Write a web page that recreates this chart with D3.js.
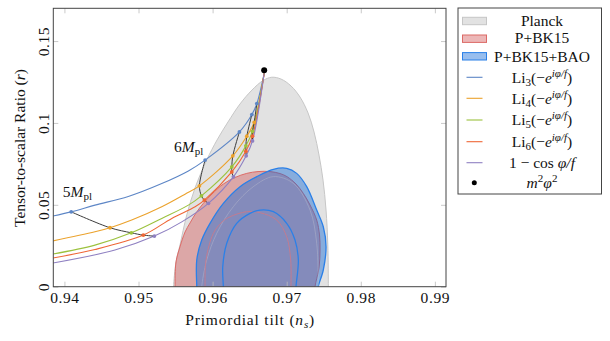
<!DOCTYPE html>
<html>
<head>
<meta charset="utf-8">
<script src="https://cdn.jsdelivr.net/npm/d3@7"></script>
<style>
  body { margin: 0; background: #fff; }
  svg { font-family: "Liberation Serif", "DejaVu Serif", serif; }
  .tick text { font-family: "Liberation Serif", "DejaVu Serif", serif; font-size: 15.5px; letter-spacing: 0.6px; fill: #111; }
</style>
</head>
<body>
<div id="chart"></div>
<script>
// chart values (ns, r)
var xTicks = [0.94, 0.95, 0.96, 0.97, 0.98, 0.99];
var yTicks = [0, 0.05, 0.1, 0.15];

var planckOuter = [[0.95473,-0.003],[0.95473,0],[0.95506,0.0151],[0.95560,0.0255],[0.95651,0.0438],[0.95763,0.0603],[0.95921,0.0774],[0.96060,0.0896],[0.96208,0.1006],[0.96370,0.1116],[0.96532,0.1201],[0.96681,0.1259],[0.96798,0.1279],[0.96923,0.1268],[0.97058,0.1226],[0.97180,0.1158],[0.97288,0.1061],[0.97369,0.0945],[0.97436,0.0804],[0.97490,0.0652],[0.97531,0.0468],[0.97555,0.0255],[0.97562,0],[0.97562,-0.003]];
var planckInner = [[0.95853,-0.003],[0.95853,0],[0.95921,0.0163],[0.96056,0.0326],[0.96280,0.0489],[0.96550,0.0611],[0.96820,0.0672],[0.97090,0.0631],[0.97315,0.0468],[0.97405,0.0265],[0.97427,0],[0.97427,-0.003]];
var bk15Outer = [[0.95493,-0.003],[0.95493,0],[0.95506,0.0151],[0.95560,0.0244],[0.95628,0.0334],[0.95695,0.0389],[0.95776,0.0450],[0.95875,0.0509],[0.95992,0.0566],[0.96145,0.0627],[0.96303,0.0667],[0.96461,0.0692],[0.96613,0.0703],[0.96775,0.0703],[0.96910,0.0691],[0.97004,0.0672],[0.97126,0.0627],[0.97224,0.0570],[0.97315,0.0499],[0.97405,0.0407],[0.97443,0.0316],[0.97450,0.0224],[0.97436,0.0114],[0.97382,0],[0.97382,-0.003]];
var bk15Inner = [[0.95898,-0.003],[0.95898,0],[0.95911,0.0163],[0.96010,0.0326],[0.96127,0.0395],[0.96235,0.0427],[0.96461,0.0458],[0.96640,0.0452],[0.96865,0.0407],[0.97000,0.0305],[0.97054,0.0163],[0.97058,0],[0.97058,-0.003]];
var baoOuter = [[0.95786,-0.003],[0.95786,0],[0.95786,0.0163],[0.95853,0.0285],[0.95965,0.0387],[0.96145,0.0509],[0.96370,0.0611],[0.96596,0.0672],[0.96820,0.0717],[0.97000,0.0723],[0.97135,0.0692],[0.97270,0.0611],[0.97405,0.0468],[0.97494,0.0366],[0.97531,0.0244],[0.97494,0.0102],[0.97427,0],[0.97427,-0.003]];
var baoInner = [[0.96145,-0.003],[0.96145,0],[0.96137,0.0122],[0.96191,0.0265],[0.96325,0.0387],[0.96505,0.0448],[0.96640,0.0468],[0.96820,0.0458],[0.97000,0.0387],[0.97112,0.0285],[0.97157,0.0163],[0.97126,0],[0.97126,-0.003]];

var li3Line = [[0.93804,0.0428],[0.94092,0.0457],[0.94412,0.0498],[0.94862,0.0551],[0.95314,0.0630],[0.95673,0.0707],[0.95899,0.0773],[0.96362,0.0945],[0.96530,0.1051],[0.96597,0.1118],[0.96696,0.1303]];
var li4Line = [[0.93804,0.0276],[0.94412,0.0335],[0.94615,0.0360],[0.94908,0.0407],[0.95314,0.0488],[0.95628,0.0565],[0.95822,0.0616],[0.96273,0.0799],[0.96462,0.0919],[0.96561,0.1004],[0.96696,0.1303]];
var li5Line = [[0.93804,0.0196],[0.94412,0.0254],[0.94903,0.0329],[0.95314,0.0417],[0.95673,0.0498],[0.95849,0.0555],[0.96259,0.0732],[0.96449,0.0860],[0.96538,0.0949],[0.96696,0.1303]];
var li6Line = [[0.93804,0.0172],[0.94412,0.0227],[0.95065,0.0315],[0.95449,0.0417],[0.95764,0.0488],[0.95889,0.0529],[0.96259,0.0701],[0.96449,0.0827],[0.96538,0.0919],[0.96696,0.1303]];
var cosLine = [[0.93804,0.0141],[0.94682,0.0224],[0.95214,0.0309],[0.95584,0.0396],[0.95943,0.0509],[0.96281,0.0671],[0.96453,0.0799],[0.96538,0.0890],[0.96696,0.1303]];

// marked points, same f for each column (5, 6, ... Mpl)
var li3Marks = [[0.94092,0.0457],[0.95899,0.0773],[0.96362,0.0945],[0.96530,0.1051],[0.96597,0.1118]];
var li4Marks = [[0.94615,0.0360],[0.95822,0.0616],[0.96273,0.0799],[0.96462,0.0919],[0.96561,0.1004]];
var li5Marks = [[0.94903,0.0329],[0.95849,0.0555],[0.96259,0.0732],[0.96449,0.0860],[0.96538,0.0949]];
var li6Marks = [[0.95065,0.0315],[0.95889,0.0529],[0.96259,0.0701],[0.96449,0.0827],[0.96538,0.0919]];
var cosMarks = [[0.95214,0.0309],[0.95943,0.0509],[0.96281,0.0671],[0.96453,0.0799],[0.96538,0.0890]];
var fLabels = ["5", "6"];

var m2phi2 = [0.96696, 0.1321];

var seriesNames = ["Li3", "Li4", "Li5", "Li6", "cos"];
var seriesColors = ["#5d86c6", "#eba22c", "#9cc23e", "#ef6636", "#8f80c2"];

var redFill = "rgb(212,96,96)", redStroke = "#dc6a66";
var blueFill = "rgb(10,100,215)", blueStroke = "#2b80e8";

var width = 610, height = 341;
var pLeft = 53.3, pRight = 446, pTop = 8.3, pBottom = 286.7;

var svg = d3.select("#chart").append("svg")
  .attr("width", width)
  .attr("height", height);

var x = d3.scaleLinear().domain([0.9385, 0.9915]).range([pLeft, pRight]);
var y = d3.scaleLinear().domain([0, 0.17]).range([pBottom, pTop]);

svg.append("clipPath").attr("id", "clip")
  .append("rect")
  .attr("x", pLeft).attr("y", pTop)
  .attr("width", pRight - pLeft).attr("height", pBottom - pTop);

var plot = svg.append("g").attr("clip-path", "url(#clip)");

var smooth = d3.line()
  .x(function(d) { return x(d[0]); })
  .y(function(d) { return y(d[1]); })
  .curve(d3.curveCatmullRom.alpha(0.5));

function region(pts, fill, opacity, stroke, sw) {
  plot.append("path")
    .attr("d", smooth(pts) + "Z")
    .attr("fill", fill)
    .attr("fill-opacity", opacity)
    .attr("stroke", stroke)
    .attr("stroke-width", sw);
}

// contours
region(planckOuter, "#e2e2e2", 1, "#c6c6c6", 1);
region(bk15Outer, redFill, 0.45, redStroke, 1);
region(baoOuter, blueFill, 0.42, blueStroke, 1.3);
region(planckInner, "none", 0, "rgba(200,200,210,0.45)", 0.8);
region(bk15Inner, "none", 0, "#c77a8c", 0.9);
region(baoInner, "none", 0, blueStroke, 1.3);

// model curves
var lines = [li3Line, li4Line, li5Line, li6Line, cosLine];
var marks = [li3Marks, li4Marks, li5Marks, li6Marks, cosMarks];

lines.forEach(function(pts, i) {
  plot.append("path")
    .attr("d", smooth(pts))
    .attr("fill", "none")
    .attr("stroke", seriesColors[i])
    .attr("stroke-width", 1.1);
});

// black lines joining equal-f points
for (var k = 0; k < li3Marks.length; k++) {
  var col = marks.map(function(m) { return m[k]; });
  plot.append("path")
    .attr("d", smooth(col))
    .attr("fill", "none")
    .attr("stroke", "#3c3c3c")
    .attr("stroke-width", 1);
}

marks.forEach(function(m, i) {
  plot.selectAll(null).data(m).enter()
    .append("circle")
    .attr("cx", function(d) { return x(d[0]); })
    .attr("cy", function(d) { return y(d[1]); })
    .attr("r", 1.9)
    .attr("fill", seriesColors[i]);
});

plot.append("circle")
  .attr("cx", x(m2phi2[0]))
  .attr("cy", y(m2phi2[1]))
  .attr("r", 3)
  .attr("fill", "#000");

// 5 Mpl and 6 Mpl labels
function mplLabel(px, py, num) {
  var t = svg.append("text")
    .attr("x", px).attr("y", py)
    .attr("font-size", 15.5)
    .attr("fill", "#111");
  t.append("tspan").text(num);
  t.append("tspan").attr("font-style", "italic").text("M");
  t.append("tspan").attr("font-size", 11).attr("dy", 3).text("pl");
}
mplLabel(x(li3Marks[0][0]) - 8.5, y(li3Marks[0][1]) - 15, fLabels[0]);
mplLabel(x(li3Marks[1][0]) - 31, y(li3Marks[1][1]) - 8.5, fLabels[1]);

// axes
var tickFmt = function(d) { return d === 0 ? "0" : String(+d.toFixed(2)); };

var gx = svg.append("g")
  .attr("transform", "translate(0," + pBottom + ")")
  .call(d3.axisBottom(x).tickValues(xTicks).tickSize(-5).tickFormat(tickFmt));
gx.selectAll(".tick text").attr("y", 16.8).attr("dy", 0);

var gxTop = svg.append("g")
  .attr("transform", "translate(0," + pTop + ")")
  .call(d3.axisTop(x).tickValues(xTicks).tickSize(-5).tickFormat(""));

var gy = svg.append("g")
  .attr("transform", "translate(" + pLeft + ",0)")
  .call(d3.axisLeft(y).tickValues(yTicks).tickSize(-5).tickFormat(tickFmt));
gy.selectAll(".tick text")
  .attr("x", 0).attr("dy", 0)
  .attr("text-anchor", "middle")
  .attr("transform", "translate(-4.8,0) rotate(-90)");

var gyRight = svg.append("g")
  .attr("transform", "translate(" + pRight + ",0)")
  .call(d3.axisRight(y).tickValues(yTicks).tickSize(-5).tickFormat(""));

[gx, gxTop, gy, gyRight].forEach(function(g) {
  g.select(".domain").remove();
  g.selectAll(".tick line").attr("stroke", "#bdbdbd").attr("stroke-width", 0.8);
});

svg.append("rect")
  .attr("x", pLeft).attr("y", pTop)
  .attr("width", pRight - pLeft).attr("height", pBottom - pTop)
  .attr("fill", "none")
  .attr("stroke", "#444")
  .attr("stroke-width", 1);

// axis titles
var xt = svg.append("text")
  .attr("x", (pLeft + pRight) / 2 + 0.5)
  .attr("y", 325)
  .attr("text-anchor", "middle")
  .attr("font-size", 15.5)
  .attr("letter-spacing", 0.8)
  .attr("fill", "#111");
xt.append("tspan").text("Primordial tilt (");
xt.append("tspan").attr("font-style", "italic").text("n");
xt.append("tspan").attr("font-style", "italic").attr("font-size", 11).attr("dy", 3).text("s");
xt.append("tspan").attr("dy", -3).text(")");

var yt = svg.append("text")
  .attr("transform", "translate(25,148) rotate(-90)")
  .attr("text-anchor", "middle")
  .attr("font-size", 15.5)
  .attr("fill", "#111");
yt.append("tspan").text("Tensor-to-scalar Ratio (");
yt.append("tspan").attr("font-style", "italic").text("r");
yt.append("tspan").text(")");

// legend
var lg = svg.append("g");
lg.append("rect")
  .attr("x", 458).attr("y", 8)
  .attr("width", 143.5).attr("height", 186)
  .attr("fill", "#fff")
  .attr("stroke", "#444")
  .attr("stroke-width", 1);

var textX = 542;
function legendText(yb) {
  return lg.append("text")
    .attr("x", textX).attr("y", yb)
    .attr("text-anchor", "middle")
    .attr("font-size", 15.5)
    .attr("fill", "#111");
}

var fillSwatches = [
  { name: "Planck", fill: "#e2e2e2", op: 1, stroke: "#c6c6c6", y: 17.3, yb: 25.7 },
  { name: "P+BK15", fill: redFill, op: 0.45, stroke: redStroke, y: 35, yb: 43.4 },
  { name: "P+BK15+BAO", fill: blueFill, op: 0.42, stroke: blueStroke, y: 52.6, yb: 61.7 }
];
fillSwatches.forEach(function(s) {
  lg.append("rect")
    .attr("x", 462.5).attr("y", s.y)
    .attr("width", 24).attr("height", 7.4)
    .attr("fill", s.fill).attr("fill-opacity", s.op)
    .attr("stroke", s.stroke).attr("stroke-width", 1);
  legendText(s.yb).text(s.name);
});

var lineRows = [77.3, 98.3, 120, 141.7, 162.7];
var liOrders = ["3", "4", "5", "6"];
seriesNames.forEach(function(n, i) {
  lg.append("line")
    .attr("x1", 466.5).attr("x2", 482.5)
    .attr("y1", lineRows[i]).attr("y2", lineRows[i])
    .attr("stroke", seriesColors[i])
    .attr("stroke-width", 1.1);
  var t = legendText(lineRows[i] + 5.2);
  if (i < 4) {
    t.append("tspan").text("Li");
    t.append("tspan").attr("font-size", 11).attr("dy", 3).text(liOrders[i]);
    t.append("tspan").attr("dy", -3).text("(\u2212");
    t.append("tspan").attr("font-style", "italic").text("e");
    t.append("tspan").attr("font-style", "italic").attr("font-size", 11).attr("dy", -6).text("i\u03c6/f");
    t.append("tspan").attr("dy", 6).text(")");
  } else {
    t.append("tspan").text("1 \u2212 cos ");
    t.append("tspan").attr("font-style", "italic").text("\u03c6/f");
  }
});

lg.append("circle")
  .attr("cx", 474.3).attr("cy", 182.7)
  .attr("r", 2.5).attr("fill", "#000");
var mt = legendText(187.5);
mt.append("tspan").attr("font-style", "italic").text("m");
mt.append("tspan").attr("font-size", 11).attr("dy", -6).text("2");
mt.append("tspan").attr("font-style", "italic").attr("dy", 6).text("\u03c6");
mt.append("tspan").attr("font-size", 11).attr("dy", -6).text("2");
</script>
</body>
</html>
